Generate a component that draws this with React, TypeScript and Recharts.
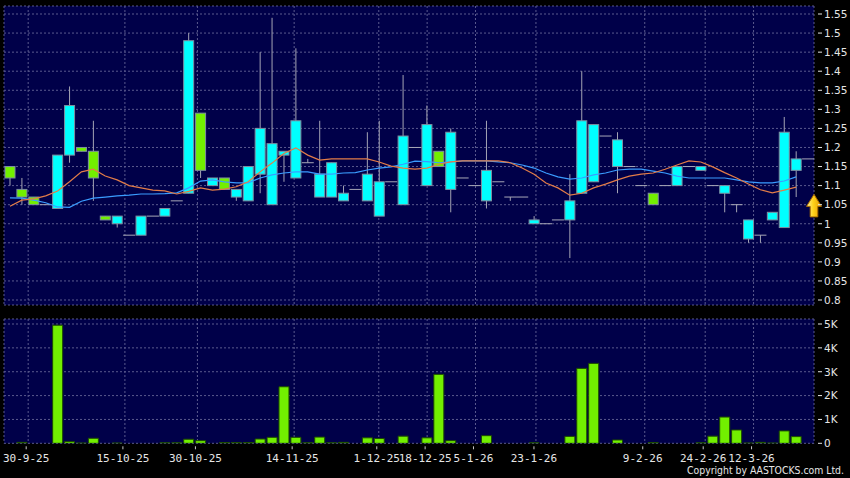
import React from "react";
import { ComposedChart, Bar, Line, XAxis, YAxis, CartesianGrid, ReferenceDot } from "recharts";

// ---- data ----
const opens = [1.15, 1.09, 1.07, 1.05, 1.04, 1.18, 1.2, 1.19, 1.02, 1.0, 0.97, 0.97, 1.02, 1.02, 1.06, 1.08, 1.29, 1.1, 1.12, 1.07, 1.06, 1.13, 1.05, 1.18, 1.12, 1.16, 1.07, 1.07, 1.06, 1.09, 1.06, 1.02, 1.11, 1.05, 1.2, 1.1, 1.19, 1.09, 1.12, 1.1, 1.06, 1.11, 1.07, 1.07, 1.0, 1.0, 1.01, 1.01, 1.08, 1.11, 1.23, 1.15, 1.15, 1.1, 1.08, 1.1, 1.1, 1.15, 1.14, 1.1, 1.08, 1.05, 0.96, 0.97, 1.01, 0.99, 1.14, 1.17];
const highs = [1.15, 1.12, 1.07, 1.05, 1.18, 1.36, 1.2, 1.27, 1.02, 1.02, 0.97, 1.02, 1.02, 1.04, 1.06, 1.5, 1.29, 1.12, 1.12, 1.09, 1.15, 1.45, 1.54, 1.19, 1.46, 1.17, 1.27, 1.16, 1.1, 1.09, 1.24, 1.27, 1.11, 1.39, 1.2, 1.31, 1.19, 1.25, 1.12, 1.1, 1.27, 1.11, 1.07, 1.07, 1.02, 1.0, 1.01, 1.13, 1.4, 1.26, 1.23, 1.24, 1.15, 1.1, 1.08, 1.1, 1.15, 1.15, 1.15, 1.1, 1.1, 1.05, 1.01, 0.97, 1.03, 1.28, 1.19, 1.17];
const lows = [1.1, 1.05, 1.05, 1.05, 1.04, 1.16, 1.19, 1.06, 1.01, 0.99, 0.97, 0.97, 1.02, 1.02, 1.06, 1.08, 1.12, 1.1, 1.09, 1.06, 1.06, 1.08, 1.05, 1.11, 1.12, 1.16, 1.07, 1.07, 1.06, 1.09, 1.06, 1.02, 1.11, 1.05, 1.2, 1.1, 1.15, 1.03, 1.12, 1.1, 1.04, 1.11, 1.06, 1.07, 1.0, 1.0, 1.01, 0.91, 1.08, 1.11, 1.23, 1.08, 1.15, 1.1, 1.05, 1.1, 1.1, 1.15, 1.14, 1.1, 1.03, 1.03, 0.95, 0.95, 1.01, 0.99, 1.07, 1.17];
const closes = [1.12, 1.07, 1.05, 1.05, 1.18, 1.31, 1.19, 1.12, 1.01, 1.02, 0.97, 1.02, 1.02, 1.04, 1.06, 1.48, 1.14, 1.12, 1.09, 1.09, 1.15, 1.25, 1.21, 1.19, 1.27, 1.16, 1.13, 1.16, 1.08, 1.09, 1.13, 1.11, 1.11, 1.23, 1.2, 1.26, 1.15, 1.24, 1.12, 1.1, 1.14, 1.11, 1.07, 1.07, 1.01, 1.0, 1.01, 1.06, 1.27, 1.26, 1.23, 1.22, 1.15, 1.1, 1.05, 1.1, 1.15, 1.15, 1.15, 1.1, 1.1, 1.05, 1.01, 0.97, 1.03, 1.24, 1.17, 1.17];
const volumes = [0, 40, 0, 0, 4950, 70, 10, 210, 0, 10, 0, 0, 0, 20, 20, 170, 110, 0, 30, 30, 30, 180, 250, 2370, 250, 20, 260, 20, 40, 0, 230, 200, 0, 300, 0, 230, 2890, 110, 0, 0, 320, 0, 0, 0, 20, 0, 0, 290, 3140, 3350, 0, 140, 0, 0, 30, 0, 0, 0, 20, 300, 1100, 560, 10, 40, 10, 520, 280, 0];
const maShort = [1.046, 1.062, 1.065, 1.073, 1.086, 1.11, 1.136, 1.143, 1.125, 1.115, 1.1, 1.094, 1.088, 1.086, 1.078, 1.085, 1.094, 1.088, 1.091, 1.097, 1.11, 1.136, 1.159, 1.184, 1.199, 1.18, 1.167, 1.17, 1.17, 1.17, 1.17, 1.162, 1.151, 1.146, 1.143, 1.146, 1.156, 1.162, 1.165, 1.165, 1.165, 1.165, 1.16, 1.146, 1.13, 1.107, 1.094, 1.075, 1.08, 1.094, 1.104, 1.115, 1.125, 1.13, 1.133, 1.143, 1.154, 1.165, 1.162, 1.149, 1.134, 1.12, 1.104, 1.089, 1.081, 1.088, 1.096, null];
const maLong = [1.068, 1.067, 1.062, 1.055, 1.044, 1.043, 1.059, 1.067, 1.07, 1.073, 1.075, 1.078, 1.078, 1.079, 1.081, 1.094, 1.112, 1.115, 1.11, 1.107, 1.107, 1.12, 1.128, 1.133, 1.136, 1.136, 1.13, 1.13, 1.133, 1.134, 1.141, 1.146, 1.149, 1.156, 1.164, 1.163, 1.16, 1.162, 1.165, 1.165, 1.165, 1.162, 1.16, 1.154, 1.146, 1.133, 1.123, 1.117, 1.12, 1.128, 1.133, 1.141, 1.143, 1.143, 1.138, 1.133, 1.125, 1.12, 1.12, 1.12, 1.12, 1.115, 1.11, 1.107, 1.107, 1.112, 1.123, null];

const tickSlots = [2, 10, 16, 24, 31, 35, 39, 44, 53, 58, 62];
const tickLabels = ["30-9-25", "15-10-25", "30-10-25", "14-11-25", "1-12-25", "18-12-25", "5-1-26", "23-1-26", "9-2-26", "24-2-26", "12-3-26"];
const priceTicks = [0.8, 0.85, 0.9, 0.95, 1.0, 1.05, 1.1, 1.15, 1.2, 1.25, 1.3, 1.35, 1.4, 1.45, 1.5, 1.55];
const volTicks = [0, 1000, 2000, 3000, 4000, 5000];
const volTickLabels = ["0", "1K", "2K", "3K", "4K", "5K"];
const slotCount = 68;
const arrowSlot = 67;
const arrowPrice = 1.077;

const rows = opens.map((o, i) => ({
  i,
  open: o,
  high: highs[i],
  low: lows[i],
  close: closes[i],
  volume: volumes[i],
  maShort: maShort[i],
  maLong: maLong[i],
}));

// ---- styles ----
const BG = "#000049";
const GRID = "#5a5a8e";
const UP = "#00ffff";
const DOWN = "#72ef00";
const LABEL = "#e6e6e6";

const CandleShape = (props: any) => {
  const { x, y, width, height, payload } = props;
  if (x == null || y == null || !payload) return null;
  const { open, close, high, low } = payload;
  const span = high - low;
  const h = height || 0;
  const pix = (v: number) => (span > 0 ? y + ((high - v) / span) * h : y);
  const cx = x + width / 2;
  const wick = (
    <line x1={cx} x2={cx} y1={y} y2={y + h} stroke="#a4a4b4" strokeWidth={1} />
  );
  if (open === close) {
    const py = pix(open);
    return (
      <g>
        {span > 0 && wick}
        <line x1={x - 1} x2={x + width + 1} y1={py} y2={py} stroke="#a8a8b8" strokeWidth={1} />
      </g>
    );
  }
  const up = close > open;
  const top = pix(Math.max(open, close));
  const bot = pix(Math.min(open, close));
  return (
    <g>
      {wick}
      <rect x={x} y={top} width={width} height={Math.max(bot - top, 1)} fill={up ? UP : DOWN} stroke="#7e8ea0" strokeWidth={1} />
    </g>
  );
};

const PriceTick = (props: any) => {
  const { x, y, payload } = props;
  const v = Number(Number(payload.value).toFixed(2));
  return (
    <g>
      <line x1={x - 4} x2={x} y1={y} y2={y} stroke={LABEL} strokeWidth={1} />
      <text x={x + 2} y={y} dy="0.36em" fill={LABEL} fontSize={10.5} fontFamily="DejaVu Sans" textAnchor="start">
        {String(v)}
      </text>
    </g>
  );
};

const VolTick = (props: any) => {
  const { x, y, payload } = props;
  const idx = volTicks.indexOf(payload.value);
  return (
    <g>
      <line x1={x - 4} x2={x} y1={y} y2={y} stroke={LABEL} strokeWidth={1} />
      <text x={x + 2} y={y} dy="0.36em" fill={LABEL} fontSize={10.5} fontFamily="DejaVu Sans" textAnchor="start">
        {idx >= 0 ? volTickLabels[idx] : ""}
      </text>
    </g>
  );
};

const DateTick = (props: any) => {
  const { x, y, payload } = props;
  const idx = tickSlots.indexOf(payload.value);
  return (
    <g>
      <line x1={x - 2} x2={x - 2} y1={y - 5} y2={y - 2} stroke="#c8c8c8" strokeWidth={1} />
      <text x={x - 2} y={y + 11} fill={LABEL} fontSize={11} fontFamily="DejaVu Sans Mono" textAnchor="middle">
        {idx >= 0 ? tickLabels[idx] : ""}
      </text>
    </g>
  );
};

const ArrowShape = (props: any) => {
  const { cx, cy } = props;
  if (cx == null || cy == null) return null;
  const d = `M ${cx} ${cy} L ${cx + 7.5} ${cy + 12} L ${cx + 3.8} ${cy + 12} L ${cx + 3.8} ${cy + 22.5} L ${cx - 3.8} ${cy + 22.5} L ${cx - 3.8} ${cy + 12} L ${cx - 7.5} ${cy + 12} Z`;
  return (
    <g>
      <defs>
        <linearGradient id="arrowGrad" x1="0" y1="0" x2="1" y2="0">
          <stop offset="0" stopColor="#fff3a0" />
          <stop offset="0.45" stopColor="#ffd21a" />
          <stop offset="1" stopColor="#e59a00" />
        </linearGradient>
      </defs>
      <path d={d} fill="url(#arrowGrad)" stroke="#a86a00" strokeWidth={1} />
    </g>
  );
};

export default function App() {
  return (
    <div style={{ position: "absolute", left: 0, top: 0, width: 850, height: 478, background: "#000", overflow: "hidden" }}>
      <div style={{ position: "absolute", left: 0, top: 0 }}>
        <ComposedChart width={850} height={310} data={rows} margin={{ top: 6, right: 0, bottom: 5, left: 4 }} barSize={10}>
          <CartesianGrid xAxisId="num" fill={BG} fillOpacity={1} stroke={GRID} strokeDasharray="2 2" />
          <XAxis dataKey="i" orientation="top" hide />
          <XAxis xAxisId="num" type="number" domain={[0, slotCount]} ticks={tickSlots} allowDataOverflow hide />
          <YAxis
            orientation="right"
            width={36}
            domain={[0.7869, 1.571]}
            allowDataOverflow
            ticks={priceTicks}
            interval={0}
            axisLine={false}
            tickLine={false}
            tickSize={6}
            tickMargin={2}
            tick={<PriceTick />}
          />
          <Bar dataKey={(d: any) => [d.low, d.high]} shape={<CandleShape />} isAnimationActive={false} />
          <Line dataKey="maLong" stroke="#3a9cff" strokeWidth={1.2} dot={false} isAnimationActive={false} />
          <Line dataKey="maShort" stroke="#e27c48" strokeWidth={1.2} dot={false} isAnimationActive={false} />
          <ReferenceDot xAxisId="num" x={arrowSlot} y={arrowPrice} r={8} shape={<ArrowShape />} ifOverflow="visible" />
        </ComposedChart>
      </div>
      <div style={{ position: "absolute", left: 0, top: 310 }}>
        <ComposedChart width={850} height={168} data={rows} margin={{ top: 9, right: 0, bottom: 0, left: 4 }} barSize={10}>
          <CartesianGrid xAxisId="num" fill={BG} fillOpacity={1} stroke={GRID} strokeDasharray="2 2" />
          <XAxis dataKey="i" orientation="top" hide />
          <XAxis
            xAxisId="num"
            type="number"
            orientation="bottom"
            domain={[0, slotCount]}
            ticks={tickSlots}
            allowDataOverflow
            interval={0}
            height={34.7}
            axisLine={false}
            tickLine={false}
            tickSize={6}
            tickMargin={2}
            tick={<DateTick />}
          />
          <YAxis
            orientation="right"
            width={36}
            domain={[0, 5210]}
            allowDataOverflow
            ticks={volTicks}
            interval={0}
            axisLine={false}
            tickLine={false}
            tickSize={6}
            tickMargin={2}
            tick={<VolTick />}
          />
          <Bar dataKey="volume" fill={DOWN} stroke="#1d4a00" strokeWidth={1} isAnimationActive={false} />
        </ComposedChart>
      </div>
      <svg width={850} height={478} style={{ position: "absolute", left: 0, top: 0, pointerEvents: "none" }}>
        <text x={844} y={474} textAnchor="end" fill={LABEL} fontSize={10.3} fontFamily="DejaVu Sans" textLength={157} lengthAdjust="spacingAndGlyphs">
          Copyright by AASTOCKS.com Ltd.
        </text>
      </svg>
    </div>
  );
}
